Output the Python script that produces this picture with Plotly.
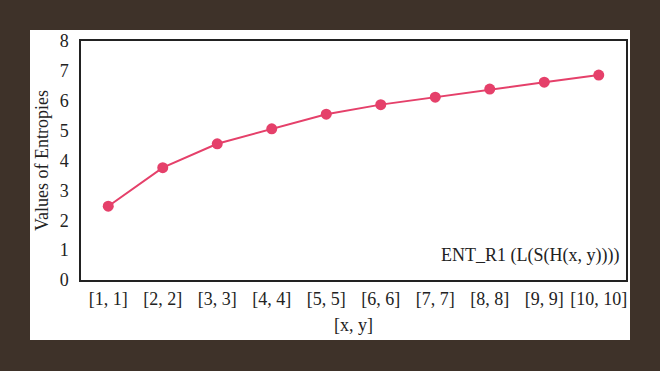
import plotly.graph_objects as go

categories = ["[1, 1]", "[2, 2]", "[3, 3]", "[4, 4]", "[5, 5]",
              "[6, 6]", "[7, 7]", "[8, 8]", "[9, 9]", "[10, 10]"]
entropy_values = [2.47, 3.76, 4.56, 5.06, 5.55, 5.87, 6.12, 6.39, 6.62, 6.86]
y_ticks = [0, 1, 2, 3, 4, 5, 6, 7, 8]
series_name = "ENT_R1 (L(S(H(x, y))))"

FONT = "Liberation Serif"
RED = "#e5406a"

fig = go.Figure()
fig.add_trace(go.Scatter(
    x=categories, y=entropy_values, mode="lines+markers",
    line=dict(color=RED, width=2),
    marker=dict(color=RED, size=11),
    name=series_name, showlegend=False,
))

W, H = 660, 371
L, R, T, B = 81, 34, 41, 91
pw, ph = W - L - R, H - T - B

def px_x(x):
    return (x - L) / pw

def px_y(y):
    return (H - B - y) / ph

fig.add_shape(type="rect", xref="paper", yref="paper",
              x0=px_x(30), x1=px_x(630), y0=px_y(340), y1=px_y(30),
              fillcolor="white", line=dict(width=0), layer="below")

fig.add_annotation(text=series_name, xref="paper", yref="paper",
                   x=px_x(621), y=px_y(255), xanchor="right", yanchor="middle",
                   showarrow=False, font=dict(family=FONT, size=18, color="#222"))

fig.update_layout(
    width=W, height=H,
    margin=dict(l=L, r=R, t=T, b=B),
    paper_bgcolor="#3e3229",
    plot_bgcolor="white",
    font=dict(family=FONT, size=18, color="#222"),
    xaxis=dict(
        type="category", range=[-0.5, 9.5], automargin=False,
        showline=True, linecolor="#222", linewidth=1.5, mirror=True,
        showgrid=False, zeroline=False,
        ticks="outside", ticklen=2, tickcolor="rgba(0,0,0,0)",
        title=dict(text="[x, y]", font=dict(size=18), standoff=10),
    ),
    yaxis=dict(
        range=[0, 8], tickvals=y_ticks, automargin=False,
        showline=True, linecolor="#222", linewidth=1.5, mirror=True,
        showgrid=False, zeroline=False,
        ticks="outside", ticklen=7, tickcolor="rgba(0,0,0,0)",
        title=dict(text="Values of Entropies", font=dict(size=18), standoff=6),
    ),
)

fig.write_html(
    "out.html",
    config={"displayModeBar": False},
    post_script="document.body.style.margin='0';document.body.style.overflow='hidden';",
)
